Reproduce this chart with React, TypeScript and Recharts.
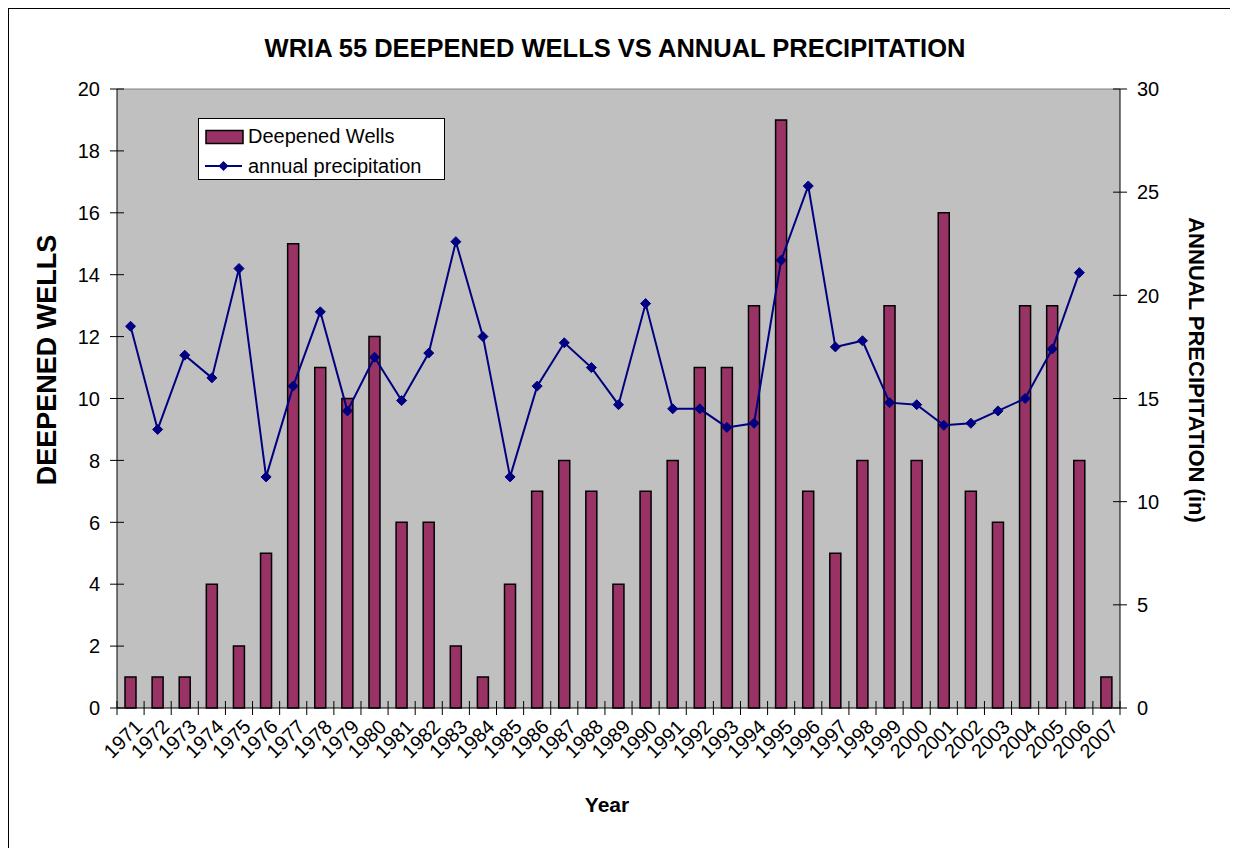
import { ComposedChart, Bar, Line, XAxis, YAxis, CartesianGrid, Legend, ReferenceLine } from 'recharts';

const years = [
  '1971', '1972', '1973', '1974', '1975', '1976', '1977', '1978', '1979', '1980',
  '1981', '1982', '1983', '1984', '1985', '1986', '1987', '1988', '1989', '1990',
  '1991', '1992', '1993', '1994', '1995', '1996', '1997', '1998', '1999', '2000',
  '2001', '2002', '2003', '2004', '2005', '2006', '2007',
];

const deepenedWells = [
  1, 1, 1, 4, 2, 5, 15, 11, 10, 12,
  6, 6, 2, 1, 4, 7, 8, 7, 4, 7,
  8, 11, 11, 13, 19, 7, 5, 8, 13, 8,
  16, 7, 6, 13, 13, 8, 1,
];

const annualPrecip: (number | null)[] = [
  18.5, 13.5, 17.1, 16.0, 21.3, 11.2, 15.6, 19.2, 14.4, 17.0,
  14.9, 17.2, 22.6, 18.0, 11.2, 15.6, 17.7, 16.5, 14.7, 19.6,
  14.5, 14.5, 13.6, 13.8, 21.7, 25.3, 17.5, 17.8, 14.8, 14.7,
  13.7, 13.8, 14.4, 15.0, 17.4, 21.1, null,
];

const wellTicks = [0, 2, 4, 6, 8, 10, 12, 14, 16, 18, 20];
const precipTicks = [0, 5, 10, 15, 20, 25, 30];

const data = years.map((year, i) => ({
  year,
  wells: deepenedWells[i],
  precip: annualPrecip[i],
}));

const FONT = "'Liberation Sans', Arial, sans-serif";
const BAR_COLOR = '#993366';
const LINE_COLOR = '#000080';

// chart geometry (chart-local px)
const W = 1229;
const H = 839;
const PLOT_LEFT = 108;
const PLOT_RIGHT = 1111;
const BAND = (PLOT_RIGHT - PLOT_LEFT) / years.length;
const TICK_GAP = 17;

const LeftTick = ({ x, y, payload }: any) => (
  <g>
    <line x1={x + TICK_GAP - 7} x2={x + TICK_GAP + 7} y1={y} y2={y} stroke="#000" />
    <text x={x} y={y} dy="0.36em" textAnchor="end" fontSize={20} fontFamily={FONT} fill="#000">
      {payload.value}
    </text>
  </g>
);

const RightTick = ({ x, y, payload }: any) => (
  <g>
    <line x1={x - TICK_GAP - 7} x2={x - TICK_GAP + 7} y1={y} y2={y} stroke="#000" />
    <text x={x} y={y} dy="0.36em" textAnchor="start" fontSize={20} fontFamily={FONT} fill="#000">
      {payload.value}
    </text>
  </g>
);

const YearTick = ({ x, y, payload, index }: any) => {
  const ax = x + 13;
  const ay = y + 20;
  return (
    <g>
      <line x1={x - BAND / 2} x2={x - BAND / 2} y1={y - 7} y2={y + 7} stroke="#000" />
      {index === years.length - 1 && (
        <line x1={x + BAND / 2} x2={x + BAND / 2} y1={y - 7} y2={y + 7} stroke="#000" />
      )}
      <text
        x={ax}
        y={ay}
        textAnchor="end"
        fontSize={20}
        fontFamily={FONT}
        fill="#000"
        transform={`rotate(-45, ${ax}, ${ay})`}
      >
        {payload.value}
      </text>
    </g>
  );
};

const Diamond = (props: any) => {
  const { cx, cy, index } = props;
  if (cx == null || cy == null || props.value == null) return <g key={`d-${index}`} />;
  const r = 5;
  return (
    <path
      key={`d-${index}`}
      d={`M${cx},${cy - r}L${cx + r},${cy}L${cx},${cy + r}L${cx - r},${cy}Z`}
      fill={LINE_COLOR}
      stroke={LINE_COLOR}
    />
  );
};

const LegendBox = () => (
  <div
    style={{
      width: 247,
      height: 62,
      boxSizing: 'border-box',
      border: '1px solid #000',
      background: '#fff',
      fontFamily: FONT,
      fontSize: 20,
      color: '#000',
      padding: '2px 0 0 6px',
    }}
  >
    <div style={{ display: 'flex', alignItems: 'center', height: 31 }}>
      <svg width={40} height={16} style={{ marginRight: 3 }}>
        <rect x={1} y={1.5} width={37} height={13} fill={BAR_COLOR} stroke="#000" strokeWidth={1.5} />
      </svg>
      <span>Deepened Wells</span>
    </div>
    <div style={{ display: 'flex', alignItems: 'center', height: 28 }}>
      <svg width={40} height={16} style={{ marginRight: 3 }}>
        <line x1={0} x2={37} y1={8} y2={8} stroke={LINE_COLOR} strokeWidth={2} />
        <path d="M18.5,3L23.5,8L18.5,13L13.5,8Z" fill={LINE_COLOR} />
      </svg>
      <span>annual precipitation</span>
    </div>
  </div>
);

export default function App() {
  return (
    <div
      style={{
        position: 'relative',
        width: 1230,
        height: 840,
        boxSizing: 'border-box',
        borderLeft: '1px solid #000',
        borderTop: '1px solid #000',
        background: '#fff',
        overflow: 'hidden',
      }}
    >
      <ComposedChart width={W} height={H} data={data} margin={{ top: 80, right: 58, bottom: 80, left: 48 }}>
        <CartesianGrid fill="#C0C0C0" horizontal={false} vertical={false} />
        <XAxis
          dataKey="year"
          interval={0}
          tickSize={0}
          tickMargin={0}
          height={60}
          axisLine={{ stroke: '#000' }}
          tickLine={false}
          tick={<YearTick />}
        />
        <YAxis
          yAxisId="left"
          domain={[0, 20]}
          ticks={wellTicks}
          width={60}
          tickSize={0}
          tickMargin={TICK_GAP}
          axisLine={{ stroke: '#000' }}
          tickLine={false}
          tick={<LeftTick />}
        />
        <YAxis
          yAxisId="right"
          orientation="right"
          domain={[0, 30]}
          ticks={precipTicks}
          width={60}
          tickSize={0}
          tickMargin={TICK_GAP}
          axisLine={{ stroke: '#000' }}
          tickLine={false}
          tick={<RightTick />}
        />
        <ReferenceLine yAxisId="left" y={20} stroke="#808080" />
        <Legend
          layout="vertical"
          align="center"
          verticalAlign="middle"
          content={<LegendBox />}
          wrapperStyle={{ left: 189, top: 109, width: 247, height: 62 }}
        />
        <Bar
          yAxisId="left"
          dataKey="wells"
          name="Deepened Wells"
          barSize={11}
          fill={BAR_COLOR}
          stroke="#000"
          strokeWidth={1.5}
          isAnimationActive={false}
        />
        <Line
          yAxisId="right"
          dataKey="precip"
          name="annual precipitation"
          type="linear"
          stroke={LINE_COLOR}
          strokeWidth={2}
          dot={<Diamond />}
          activeDot={false}
          isAnimationActive={false}
        />
      </ComposedChart>
      <svg
        width={W}
        height={H}
        style={{ position: 'absolute', left: 0, top: 0, pointerEvents: 'none' }}
        fontFamily={FONT}
        fontWeight="bold"
        fill="#000"
      >
        <text x={606} y={48} textAnchor="middle" fontSize={25.5}>
          WRIA 55 DEEPENED WELLS VS ANNUAL PRECIPITATION
        </text>
        <text x={47} y={351} textAnchor="middle" fontSize={27} transform="rotate(-90, 47, 351)">
          DEEPENED WELLS
        </text>
        <text x={1180} y={361} textAnchor="middle" fontSize={22} transform="rotate(90, 1180, 361)">
          ANNUAL PRECIPITATION (in)
        </text>
        <text x={598} y={803} textAnchor="middle" fontSize={21}>
          Year
        </text>
      </svg>
    </div>
  );
}
